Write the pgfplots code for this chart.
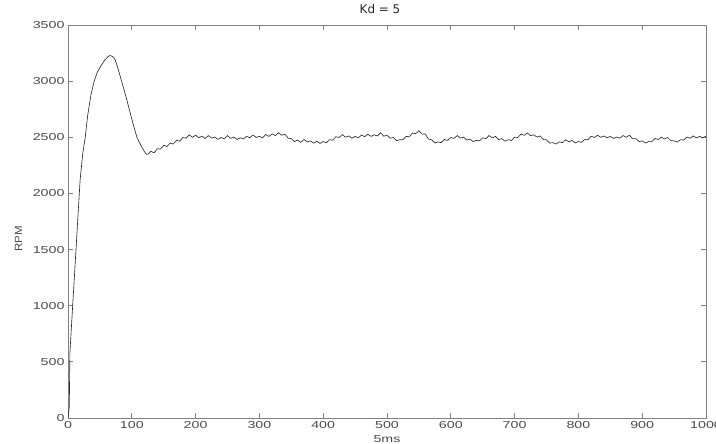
\documentclass[border=0pt]{standalone}
\usepackage{fontspec}
\setmainfont{Liberation Sans}[FakeStretch=1.4]
\newfontfamily\titlefont{DejaVu Sans}
\newfontfamily\ylfont{Liberation Sans}[FakeStretch=1.1]
\usepackage{pgfplots}
\pgfplotsset{compat=1.18}
\definecolor{axgray}{HTML}{808080}
\definecolor{txtgray}{HTML}{4A4A4A}
\definecolor{curve}{HTML}{2A2A2A}
\begin{document}
\begin{tikzpicture}
\begin{axis}[
  at={(0,0)}, anchor=south west,
  scale only axis, width=638bp, height=393bp,
  xmin=0, xmax=1000, ymin=0, ymax=3500,
  xtick={0,100,...,1000}, ytick={0,500,...,3500},
  tick align=inside, major tick length=5bp,
  axis line style={axgray, line width=0.8pt},
  every tick/.style={axgray, line width=0.8pt},
  /pgf/number format/assume math mode=true,
  /pgf/number format/1000 sep={},
  tick label style={font=\fontsize{10.2}{12}\selectfont, text=txtgray},
  title={\titlefont Kd = 5},
  title style={at={(axis description cs:0.5,1)}, anchor=base, yshift=5.7bp, xshift=-7bp, font=\fontsize{12}{14}\selectfont, text=black!85},
  xlabel={5ms},
  xlabel style={font=\fontsize{10.2}{12}\selectfont, text=txtgray},
  ylabel={\ylfont RPM},
  ylabel style={at={(axis description cs:-0.0776,0.455)}, anchor=center, font=\fontsize{10.5}{12}\selectfont, text=txtgray},
]
\addplot[curve, line width=0.65pt] coordinates {
(0,0) (2,100) (3,580) (7,970) (11,1350) (15,1740) (19,2120) (23,2350) (27,2500)
(31,2700) (36,2880) (41,3000) (46,3080) (52,3140) (58,3190) (63,3220) (66,3228)
(70,3220) (74,3190) (79,3100) (84,3000) (90,2880) (96,2750) (102,2620) (108,2500)
(114,2430) (120,2370) (123,2348)
(125,2350) (130,2375) (135,2362) (140,2398) (145,2395) (150,2428) (155,2418) (160,2448)
(165,2440) (170,2472) (175,2465) (180,2498) (185,2492) (190,2522) (195,2500) (200,2518)
(205,2497) (210,2510) (215,2490) (220,2515) (225,2493) (230,2502) (235,2482) (240,2498)
(245,2485) (250,2515) (255,2490) (260,2502) (265,2480) (270,2496) (275,2485) (280,2508)
(285,2496) (290,2520) (295,2498) (300,2510) (305,2495) (310,2525) (315,2508) (320,2530)
(325,2515) (330,2540) (335,2518) (340,2528) (345,2492) (350,2488) (355,2462) (360,2475)
(365,2455) (370,2480) (375,2458) (380,2468) (385,2448) (390,2465) (395,2445) (400,2462)
(405,2452) (410,2478) (415,2475) (420,2505) (425,2498) (430,2525) (435,2500) (440,2512)
(445,2492) (450,2508) (455,2495) (460,2520) (465,2505) (470,2528) (475,2508) (480,2522)
(485,2512) (490,2540) (495,2510) (500,2518) (505,2492) (510,2498) (515,2470) (520,2478)
(525,2478) (530,2508) (535,2505) (540,2538) (545,2532) (550,2558) (555,2528) (560,2530)
(565,2485) (570,2478) (575,2450) (580,2458) (585,2452) (590,2480) (595,2472) (600,2498)
(605,2490) (610,2515) (615,2492) (620,2502) (625,2475) (630,2484) (635,2462) (640,2472)
(645,2468) (650,2495) (655,2488) (660,2515) (665,2495) (670,2508) (675,2480) (680,2488)
(685,2465) (690,2478) (695,2472) (700,2500) (705,2498) (710,2528) (715,2518) (720,2538)
(725,2515) (730,2522) (735,2502) (740,2512) (745,2480) (750,2478) (755,2448) (760,2452)
(765,2440) (770,2460) (775,2452) (780,2478) (785,2460) (790,2472) (795,2450) (800,2462)
(805,2455) (810,2480) (815,2478) (820,2510) (825,2498) (830,2518) (835,2500) (840,2512)
(845,2495) (850,2508) (855,2490) (860,2502) (865,2492) (870,2515) (875,2500) (880,2518)
(885,2488) (890,2488) (895,2462) (900,2468) (905,2448) (910,2462) (915,2460) (920,2490)
(925,2480) (930,2502) (935,2485) (940,2498) (945,2470) (950,2468) (955,2458) (960,2478)
(965,2475) (970,2502) (975,2492) (980,2512) (985,2495) (990,2508) (995,2495) (1000,2510)
};
\end{axis}
\pgfresetboundingbox
\path[use as bounding box] (-68bp,-26bp) rectangle (648bp,418bp);
\end{tikzpicture}
\end{document}
